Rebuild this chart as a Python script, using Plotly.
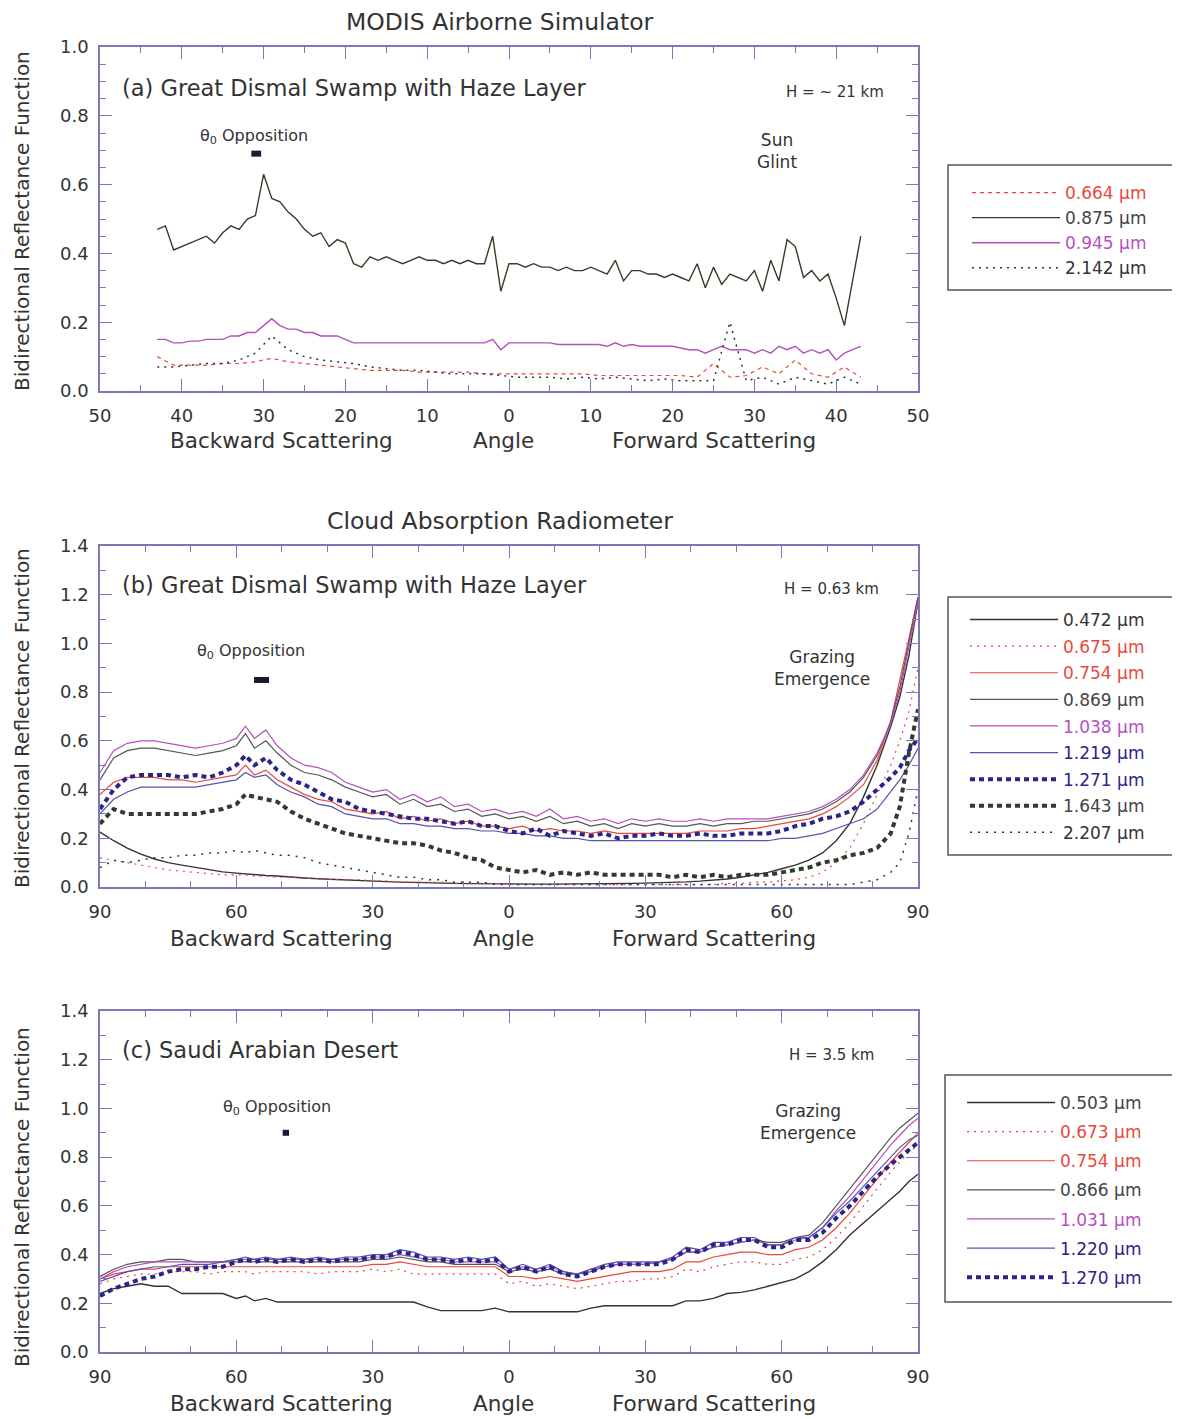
import plotly.graph_objects as go

W, H = 1180, 1419
OFF = 8  # page body margin of the html page


def px(x):
    return (x - OFF) / W


def py(y):
    return 1 - (y - OFF) / H


FONT = "DejaVu Sans"
AXC = "#7d79b8"
TXT = "#333333"

# ---------------- Panel (a) data : MODIS Airborne Simulator ----------------
A_ANG = [-43, -42, -41, -40, -39, -38, -37, -36, -35, -34, -33, -32, -31, -30, -29, -28, -27, -26, -25, -24,
         -23, -22, -21, -20, -19, -18, -17, -16, -15, -14, -13, -12, -11, -10, -9, -8, -7, -6, -5, -4, -3, -2,
         -1, 0, 1, 2, 3, 4, 5, 6, 7, 8, 9, 10, 11, 12, 13, 14, 15, 16, 17, 18, 19, 20, 21, 22, 23, 24, 25, 26,
         27, 28, 29, 30, 31, 32, 33, 34, 35, 36, 37, 38, 39, 40, 41, 42, 43]
A_875 = [0.47, 0.48, 0.41, 0.42, 0.43, 0.44, 0.45, 0.43, 0.46, 0.48, 0.47, 0.50, 0.51, 0.63, 0.56, 0.55, 0.52,
         0.50, 0.47, 0.45, 0.46, 0.42, 0.44, 0.43, 0.37, 0.36, 0.39, 0.38, 0.39, 0.38, 0.37, 0.38, 0.39, 0.38,
         0.38, 0.37, 0.38, 0.37, 0.38, 0.37, 0.37, 0.45, 0.29, 0.37, 0.37, 0.36, 0.37, 0.36, 0.36, 0.35, 0.36,
         0.35, 0.35, 0.36, 0.35, 0.34, 0.38, 0.32, 0.35, 0.35, 0.34, 0.34, 0.33, 0.34, 0.33, 0.32, 0.37, 0.30,
         0.36, 0.31, 0.34, 0.33, 0.32, 0.35, 0.29, 0.38, 0.32, 0.44, 0.42, 0.33, 0.35, 0.32, 0.34, 0.27, 0.19,
         0.32, 0.45]
A_945 = [0.15, 0.15, 0.14, 0.14, 0.145, 0.145, 0.15, 0.15, 0.15, 0.16, 0.16, 0.17, 0.17, 0.19, 0.21, 0.19,
         0.18, 0.18, 0.17, 0.17, 0.16, 0.16, 0.16, 0.15, 0.14, 0.14, 0.14, 0.14, 0.14, 0.14, 0.14, 0.14, 0.14,
         0.14, 0.14, 0.14, 0.14, 0.14, 0.14, 0.14, 0.14, 0.15, 0.12, 0.14, 0.14, 0.14, 0.14, 0.14, 0.14, 0.135,
         0.135, 0.135, 0.135, 0.135, 0.135, 0.13, 0.14, 0.13, 0.135, 0.13, 0.13, 0.13, 0.13, 0.13, 0.125, 0.12,
         0.12, 0.11, 0.12, 0.13, 0.12, 0.12, 0.12, 0.11, 0.12, 0.11, 0.13, 0.12, 0.13, 0.11, 0.12, 0.11, 0.12,
         0.09, 0.11, 0.12, 0.13]
A_ANG2 = [-43, -41, -39, -37, -35, -33, -31, -29, -27, -25, -23, -21, -19, -17, -15, -13, -11, -9, -7, -5,
          -3, -1, 1, 3, 5, 7, 9, 11, 13, 15, 17, 19, 21, 23, 25, 27, 29, 31, 33, 35, 37, 39, 41, 43]
A_664 = [0.10, 0.075, 0.075, 0.075, 0.08, 0.08, 0.085, 0.095, 0.085, 0.08, 0.075, 0.07, 0.065, 0.06, 0.06,
         0.06, 0.055, 0.055, 0.055, 0.055, 0.05, 0.05, 0.05, 0.05, 0.05, 0.05, 0.05, 0.045, 0.045, 0.045,
         0.045, 0.045, 0.045, 0.04, 0.08, 0.04, 0.045, 0.07, 0.05, 0.09, 0.05, 0.04, 0.07, 0.04]
A_2142 = [0.07, 0.07, 0.075, 0.08, 0.08, 0.09, 0.11, 0.16, 0.12, 0.10, 0.09, 0.085, 0.08, 0.07, 0.065, 0.06,
          0.06, 0.055, 0.05, 0.05, 0.05, 0.045, 0.04, 0.04, 0.04, 0.035, 0.04, 0.035, 0.04, 0.035, 0.03, 0.035,
          0.03, 0.03, 0.03, 0.20, 0.03, 0.04, 0.02, 0.04, 0.03, 0.02, 0.04, 0.02]
A_TICKVALS = [-50, -40, -30, -20, -10, 0, 10, 20, 30, 40, 50]
A_TICKTEXT = ["50", "40", "30", "20", "10", "0", "10", "20", "30", "40", "50"]
A_OPP_X = [-31.5, -30.3]
A_OPP_Y = [0.69, 0.69]

# ---------------- Panels (b) and (c) : Cloud Absorption Radiometer ----------------
BC_ANG = [-90, -87, -84, -81, -78, -75, -72, -69, -66, -63, -60, -58, -56, -53.5, -51, -48, -45, -42, -39,
          -36, -33, -30, -27, -24, -21, -18, -15, -12, -9, -6, -3, 0, 3, 6, 9, 12, 15, 18, 21, 24, 27, 30, 33,
          36, 39, 42, 45, 48, 51, 54, 57, 60, 63, 66, 69, 72, 75, 78, 81, 84, 86, 88, 90]

B_472 = [0.225, 0.19, 0.16, 0.135, 0.115, 0.10, 0.09, 0.08, 0.07, 0.062, 0.057, 0.053, 0.05, 0.047, 0.045,
         0.04, 0.037, 0.034, 0.031, 0.028, 0.026, 0.024, 0.022, 0.02, 0.018, 0.017, 0.016, 0.015, 0.014, 0.013,
         0.012, 0.012, 0.012, 0.012, 0.012, 0.012, 0.012, 0.013, 0.013, 0.014, 0.015, 0.016, 0.017, 0.019,
         0.021, 0.024, 0.028, 0.033, 0.04, 0.05, 0.06, 0.075, 0.09, 0.11, 0.14, 0.19, 0.26, 0.37, 0.50, 0.66,
         0.78, 0.95, 1.17]
B_675 = [0.12, 0.11, 0.10, 0.09, 0.08, 0.07, 0.065, 0.06, 0.055, 0.05, 0.05, 0.05, 0.045, 0.045, 0.04, 0.04,
         0.035, 0.035, 0.03, 0.03, 0.03, 0.025, 0.025, 0.02, 0.02, 0.02, 0.02, 0.015, 0.015, 0.015, 0.015,
         0.01, 0.01, 0.01, 0.01, 0.01, 0.01, 0.01, 0.01, 0.01, 0.01, 0.01, 0.01, 0.01, 0.01, 0.01, 0.01, 0.015,
         0.015, 0.02, 0.02, 0.025, 0.03, 0.04, 0.06, 0.10, 0.16, 0.26, 0.38, 0.50, 0.60, 0.72, 0.90]
B_754 = [0.38, 0.43, 0.45, 0.45, 0.45, 0.44, 0.44, 0.43, 0.44, 0.45, 0.46, 0.50, 0.46, 0.48, 0.44, 0.41, 0.38,
         0.36, 0.35, 0.32, 0.31, 0.30, 0.31, 0.28, 0.29, 0.27, 0.28, 0.26, 0.27, 0.25, 0.25, 0.24, 0.25, 0.23,
         0.24, 0.23, 0.23, 0.22, 0.23, 0.22, 0.22, 0.22, 0.22, 0.22, 0.22, 0.23, 0.23, 0.23, 0.24, 0.24, 0.25,
         0.26, 0.27, 0.28, 0.30, 0.33, 0.37, 0.42, 0.52, 0.68, 0.85, 1.02, 1.19]
B_869 = [0.44, 0.53, 0.56, 0.57, 0.57, 0.56, 0.55, 0.54, 0.55, 0.56, 0.58, 0.63, 0.57, 0.60, 0.55, 0.50, 0.47,
         0.46, 0.44, 0.41, 0.39, 0.37, 0.38, 0.34, 0.36, 0.33, 0.34, 0.31, 0.32, 0.29, 0.30, 0.28, 0.29, 0.27,
         0.29, 0.26, 0.27, 0.25, 0.26, 0.24, 0.26, 0.25, 0.26, 0.25, 0.25, 0.26, 0.25, 0.26, 0.26, 0.27, 0.27,
         0.28, 0.29, 0.30, 0.32, 0.35, 0.39, 0.45, 0.54, 0.68, 0.82, 1.00, 1.19]
B_1038 = [0.47, 0.56, 0.59, 0.60, 0.60, 0.59, 0.58, 0.57, 0.58, 0.59, 0.61, 0.66, 0.61, 0.645, 0.58, 0.53, 0.50,
          0.49, 0.47, 0.43, 0.41, 0.39, 0.40, 0.36, 0.38, 0.35, 0.37, 0.33, 0.34, 0.31, 0.32, 0.30, 0.31, 0.29,
          0.32, 0.28, 0.29, 0.27, 0.28, 0.26, 0.28, 0.27, 0.28, 0.27, 0.27, 0.28, 0.27, 0.28, 0.28, 0.28, 0.28,
          0.29, 0.30, 0.31, 0.33, 0.36, 0.40, 0.46, 0.55, 0.67, 0.80, 0.98, 1.17]
B_1219 = [0.30, 0.36, 0.39, 0.41, 0.41, 0.41, 0.41, 0.41, 0.42, 0.43, 0.44, 0.47, 0.45, 0.46, 0.42, 0.39, 0.37,
          0.34, 0.33, 0.30, 0.29, 0.28, 0.28, 0.26, 0.26, 0.25, 0.25, 0.24, 0.24, 0.23, 0.23, 0.22, 0.22, 0.21,
          0.21, 0.20, 0.20, 0.19, 0.19, 0.19, 0.19, 0.19, 0.19, 0.19, 0.19, 0.19, 0.19, 0.19, 0.19, 0.19, 0.19,
          0.20, 0.20, 0.21, 0.22, 0.24, 0.26, 0.28, 0.32, 0.39, 0.44, 0.50, 0.57]
B_1271 = [0.32, 0.40, 0.45, 0.46, 0.46, 0.46, 0.45, 0.46, 0.45, 0.47, 0.50, 0.54, 0.50, 0.53, 0.48, 0.44, 0.42,
          0.39, 0.36, 0.35, 0.32, 0.31, 0.30, 0.29, 0.28, 0.28, 0.27, 0.26, 0.27, 0.25, 0.25, 0.23, 0.22, 0.24,
          0.21, 0.23, 0.22, 0.21, 0.22, 0.20, 0.21, 0.21, 0.22, 0.21, 0.21, 0.22, 0.21, 0.21, 0.22, 0.22, 0.22,
          0.23, 0.25, 0.26, 0.28, 0.29, 0.31, 0.35, 0.40, 0.45, 0.49, 0.56, 0.61]
B_1643 = [0.26, 0.32, 0.30, 0.30, 0.30, 0.30, 0.30, 0.30, 0.31, 0.32, 0.34, 0.38, 0.37, 0.36, 0.35, 0.31, 0.28,
          0.26, 0.24, 0.22, 0.21, 0.20, 0.19, 0.18, 0.18, 0.17, 0.15, 0.14, 0.12, 0.11, 0.08, 0.07, 0.06, 0.07,
          0.05, 0.06, 0.05, 0.06, 0.05, 0.05, 0.05, 0.05, 0.05, 0.04, 0.05, 0.04, 0.05, 0.04, 0.05, 0.05, 0.05,
          0.06, 0.07, 0.08, 0.10, 0.11, 0.13, 0.14, 0.16, 0.22, 0.33, 0.55, 0.73]
B_2207 = [0.08, 0.11, 0.10, 0.11, 0.12, 0.12, 0.13, 0.13, 0.14, 0.14, 0.15, 0.14, 0.15, 0.14, 0.13, 0.13, 0.12,
          0.10, 0.09, 0.08, 0.07, 0.06, 0.05, 0.04, 0.04, 0.03, 0.03, 0.02, 0.02, 0.02, 0.01, 0.01, 0.01, 0.01,
          0.01, 0.01, 0.01, 0.01, 0.01, 0.01, 0.01, 0.01, 0.01, 0.01, 0.01, 0.01, 0.01, 0.01, 0.01, 0.01, 0.01,
          0.01, 0.01, 0.01, 0.01, 0.01, 0.01, 0.02, 0.03, 0.06, 0.10, 0.22, 0.40]
B_OPP_X = [-56.1, -52.8]
B_OPP_Y = [0.85, 0.85]

C_503 = [0.24, 0.26, 0.27, 0.28, 0.27, 0.27, 0.24, 0.24, 0.24, 0.24, 0.22, 0.23, 0.21, 0.22, 0.205, 0.205,
         0.205, 0.205, 0.205, 0.205, 0.205, 0.205, 0.205, 0.205, 0.205, 0.185, 0.17, 0.17, 0.17, 0.17, 0.18,
         0.165, 0.165, 0.165, 0.165, 0.165, 0.165, 0.18, 0.19, 0.19, 0.19, 0.19, 0.19, 0.19, 0.21, 0.21, 0.22,
         0.24, 0.245, 0.255, 0.27, 0.285, 0.30, 0.33, 0.37, 0.42, 0.48, 0.53, 0.58, 0.63, 0.66, 0.70, 0.73]
C_673 = [0.28, 0.30, 0.31, 0.32, 0.32, 0.33, 0.33, 0.33, 0.32, 0.33, 0.33, 0.33, 0.32, 0.33, 0.33, 0.33, 0.33,
         0.32, 0.33, 0.33, 0.33, 0.34, 0.33, 0.34, 0.32, 0.32, 0.32, 0.32, 0.32, 0.32, 0.32, 0.28, 0.29, 0.27,
         0.28, 0.27, 0.26, 0.27, 0.28, 0.29, 0.29, 0.30, 0.30, 0.31, 0.34, 0.33, 0.35, 0.36, 0.37, 0.37, 0.36,
         0.36, 0.38, 0.39, 0.42, 0.47, 0.53, 0.60, 0.67, 0.74, 0.78, 0.82, 0.85]
C_754 = [0.30, 0.32, 0.33, 0.34, 0.34, 0.35, 0.35, 0.35, 0.35, 0.35, 0.35, 0.35, 0.35, 0.35, 0.35, 0.35, 0.35,
         0.35, 0.35, 0.35, 0.35, 0.36, 0.36, 0.37, 0.36, 0.35, 0.35, 0.35, 0.35, 0.35, 0.35, 0.31, 0.31, 0.30,
         0.31, 0.30, 0.29, 0.30, 0.31, 0.32, 0.33, 0.33, 0.33, 0.34, 0.37, 0.37, 0.39, 0.40, 0.41, 0.41, 0.40,
         0.40, 0.42, 0.43, 0.46, 0.51, 0.57, 0.64, 0.71, 0.78, 0.82, 0.86, 0.90]
C_866 = [0.31, 0.34, 0.36, 0.37, 0.37, 0.38, 0.38, 0.37, 0.37, 0.37, 0.37, 0.37, 0.37, 0.37, 0.37, 0.37, 0.37,
         0.37, 0.37, 0.37, 0.37, 0.38, 0.38, 0.39, 0.38, 0.37, 0.37, 0.36, 0.36, 0.36, 0.36, 0.33, 0.34, 0.33,
         0.34, 0.32, 0.32, 0.33, 0.35, 0.36, 0.36, 0.36, 0.37, 0.38, 0.41, 0.41, 0.43, 0.44, 0.45, 0.46, 0.45,
         0.45, 0.47, 0.48, 0.53, 0.60, 0.67, 0.74, 0.81, 0.88, 0.92, 0.95, 0.98]
C_1031 = [0.30, 0.33, 0.35, 0.36, 0.37, 0.37, 0.37, 0.37, 0.37, 0.37, 0.38, 0.38, 0.38, 0.38, 0.38, 0.38, 0.38,
          0.38, 0.38, 0.38, 0.38, 0.39, 0.39, 0.40, 0.39, 0.38, 0.38, 0.37, 0.37, 0.37, 0.37, 0.34, 0.35, 0.34,
          0.35, 0.33, 0.32, 0.34, 0.35, 0.36, 0.36, 0.36, 0.37, 0.38, 0.41, 0.41, 0.43, 0.44, 0.45, 0.46, 0.44,
          0.44, 0.46, 0.47, 0.51, 0.58, 0.64, 0.71, 0.78, 0.85, 0.89, 0.93, 0.96]
C_1220 = [0.29, 0.31, 0.33, 0.34, 0.35, 0.35, 0.36, 0.36, 0.36, 0.37, 0.38, 0.39, 0.38, 0.39, 0.38, 0.39, 0.38,
          0.39, 0.38, 0.39, 0.39, 0.40, 0.40, 0.42, 0.41, 0.39, 0.39, 0.38, 0.39, 0.38, 0.39, 0.34, 0.36, 0.34,
          0.36, 0.33, 0.32, 0.34, 0.36, 0.37, 0.37, 0.37, 0.37, 0.39, 0.43, 0.42, 0.45, 0.45, 0.47, 0.47, 0.44,
          0.44, 0.47, 0.47, 0.51, 0.57, 0.62, 0.68, 0.74, 0.80, 0.84, 0.87, 0.89]
C_1270 = [0.23, 0.26, 0.28, 0.30, 0.31, 0.33, 0.34, 0.34, 0.35, 0.35, 0.37, 0.38, 0.37, 0.38, 0.37, 0.38, 0.37,
          0.38, 0.37, 0.38, 0.38, 0.39, 0.39, 0.41, 0.40, 0.38, 0.38, 0.37, 0.38, 0.37, 0.38, 0.33, 0.35, 0.33,
          0.35, 0.32, 0.31, 0.33, 0.35, 0.36, 0.36, 0.36, 0.36, 0.38, 0.42, 0.41, 0.44, 0.44, 0.46, 0.46, 0.43,
          0.43, 0.46, 0.46, 0.49, 0.55, 0.60, 0.66, 0.72, 0.77, 0.80, 0.83, 0.86]
C_OPP_X = [-49.8, -48.4]
C_OPP_Y = [0.90, 0.90]

BC_TICKVALS = [-90, -60, -30, 0, 30, 60, 90]
BC_TICKTEXT = ["90", "60", "30", "0", "30", "60", "90"]

# ---------------- colours ----------------
DARK = "#333333"
OLIVE = "#3a3a26"
GRAY = "#555555"
RED = "#e8493c"
MAG = "#b54fbf"
BLUE = "#5752b0"
NAVY = "#29268a"
GREEN = "#313c2b"

fig = go.Figure()


def add(x, y, name, color, width, dash, xa, ya, legend, textcolor=None):
    fig.add_trace(go.Scatter(
        x=x, y=y, mode="lines", xaxis=xa, yaxis=ya, legend=legend, legendgroup=legend + name,
        name=f'<span style="color:{textcolor or color}">{name}</span>',
        line=dict(color=color, width=width, dash=dash), hoverinfo="skip",
    ))


# panel a
add(A_ANG2, A_664, "0.664 µm", RED, 1.2, "4px,4px", "x", "y", "legend")
add(A_ANG, A_875, "0.875 µm", OLIVE, 1.4, "solid", "x", "y", "legend", "#444444")
add(A_ANG, A_945, "0.945 µm", MAG, 1.4, "solid", "x", "y", "legend")
add(A_ANG2, A_2142, "2.142 µm", DARK, 1.5, "2px,5px", "x", "y", "legend")

# panel b
add(BC_ANG, B_472, "0.472 µm", DARK, 1.4, "solid", "x2", "y2", "legend2")
add(BC_ANG, B_675, "0.675 µm", RED, 1.2, "2px,5px", "x2", "y2", "legend2")
add(BC_ANG, B_754, "0.754 µm", RED, 1.2, "solid", "x2", "y2", "legend2")
add(BC_ANG, B_869, "0.869 µm", GRAY, 1.2, "solid", "x2", "y2", "legend2", "#444444")
add(BC_ANG, B_1038, "1.038 µm", MAG, 1.2, "solid", "x2", "y2", "legend2")
add(BC_ANG, B_1219, "1.219 µm", BLUE, 1.2, "solid", "x2", "y2", "legend2", NAVY)
add(BC_ANG, B_1271, "1.271 µm", NAVY, 4, "5px,4px", "x2", "y2", "legend2")
add(BC_ANG, B_1643, "1.643 µm", GREEN, 4, "5px,4px", "x2", "y2", "legend2", "#444444")
add(BC_ANG, B_2207, "2.207 µm", DARK, 1.5, "2px,6px", "x2", "y2", "legend2")

# panel c
add(BC_ANG, C_503, "0.503 µm", DARK, 1.4, "solid", "x3", "y3", "legend3", "#444444")
add(BC_ANG, C_673, "0.673 µm", RED, 1.2, "2px,5px", "x3", "y3", "legend3")
add(BC_ANG, C_754, "0.754 µm", RED, 1.2, "solid", "x3", "y3", "legend3")
add(BC_ANG, C_866, "0.866 µm", GRAY, 1.2, "solid", "x3", "y3", "legend3", "#444444")
add(BC_ANG, C_1031, "1.031 µm", MAG, 1.2, "solid", "x3", "y3", "legend3")
add(BC_ANG, C_1220, "1.220 µm", BLUE, 1.2, "solid", "x3", "y3", "legend3", NAVY)
add(BC_ANG, C_1270, "1.270 µm", NAVY, 4, "5px,4px", "x3", "y3", "legend3")

# opposition markers
for ox, oy, xa, ya in [(A_OPP_X, A_OPP_Y, "x", "y"), (B_OPP_X, B_OPP_Y, "x2", "y2"), (C_OPP_X, C_OPP_Y, "x3", "y3")]:
    fig.add_trace(go.Scatter(x=ox, y=oy, mode="lines", xaxis=xa, yaxis=ya, showlegend=False,
                             line=dict(color="#231631", width=6), hoverinfo="skip"))


def xaxis(rng, tv, tt, minor_dtick, anchor):
    return dict(
        domain=[px(100), px(918)], anchor=anchor, range=rng, tickmode="array", tickvals=tv, ticktext=tt,
        ticks="inside", ticklen=12, tickwidth=1.3, tickcolor=AXC, showline=True, linecolor=AXC, linewidth=1.6,
        mirror="ticks", showgrid=False, zeroline=False, ticklabelstandoff=8, automargin=False,
        tickfont=dict(family=FONT, size=18, color=TXT),
        minor=dict(dtick=minor_dtick, tick0=0, ticks="inside", ticklen=6, tickwidth=1.2, tickcolor=AXC,
                   showgrid=False),
    )


def yaxis(top, bottom, rng, minor_dtick, anchor):
    return dict(
        domain=[py(bottom), py(top)], anchor=anchor, range=rng, dtick=0.2, tick0=0, tickformat=".1f",
        ticks="inside", ticklen=12, tickwidth=1.3, tickcolor=AXC, showline=True, linecolor=AXC, linewidth=1.6,
        mirror="ticks", showgrid=False, zeroline=False, ticklabelstandoff=6, automargin=False,
        tickfont=dict(family=FONT, size=18, color=TXT),
        minor=dict(dtick=minor_dtick, tick0=0, ticks="inside", ticklen=6, tickwidth=1.2, tickcolor=AXC,
                   showgrid=False),
    )


def legend(left, top, gap):
    return dict(x=px(left), y=py(top), xanchor="left", yanchor="top", bgcolor="rgba(0,0,0,0)",
                borderwidth=0, font=dict(family=FONT, size=17, color=TXT),
                itemwidth=88, traceorder="grouped", tracegroupgap=gap)


ann = []


def text(x, y, s, size, xanchor="center", angle=0):
    ann.append(dict(x=px(x), y=py(y), xref="paper", yref="paper", text=s, showarrow=False, xanchor=xanchor,
                    yanchor="middle", textangle=angle, font=dict(family=FONT, size=size, color=TXT)))


text(500, 22, "MODIS Airborne Simulator", 23.5)
text(500, 521, "Cloud Absorption Radiometer", 23.5)
text(120, 88, "(a) Great Dismal Swamp with Haze Layer", 22.5, "left")
text(120, 585, "(b) Great Dismal Swamp with Haze Layer", 22.5, "left")
text(120, 1050, "(c) Saudi Arabian Desert", 22.5, "left")
text(886, 92, "H = ~ 21 km", 15, "right")
text(881, 589, "H = 0.63 km", 15, "right")
text(876, 1055, "H = 3.5 km", 15, "right")
text(254, 136, "θ<sub>0</sub> Opposition", 16)
text(251, 652, "θ<sub>0</sub> Opposition", 16)
text(277, 1107, "θ<sub>0</sub> Opposition", 16)
text(777, 151, "Sun<br>Glint", 17)
text(822, 668, "Grazing<br>Emergence", 17)
text(808, 1122, "Grazing<br>Emergence", 17)
for yy in (440, 938, 1403):
    text(281, yy, "Backward Scattering", 21.5)
    text(503, yy, "Angle", 21.5)
    text(714, yy, "Forward Scattering", 21.5)
for yy in (221, 718, 1197):
    text(22, yy, "Bidirectional Reflectance Function", 20, angle=-90)

shapes = []
for (x0, y0, x1, y1) in [(948, 165, 1178, 290), (948, 597, 1178, 855), (945, 1075, 1178, 1302)]:
    shapes.append(dict(type="rect", xref="paper", yref="paper", x0=px(x0), x1=px(x1), y0=py(y1), y1=py(y0),
                       line=dict(color="#555555", width=1.5), fillcolor="rgba(0,0,0,0)", layer="above"))

fig.update_layout(
    width=W, height=H, autosize=False, margin=dict(l=0, r=0, t=0, b=0, autoexpand=False),
    paper_bgcolor="white", plot_bgcolor="white",
    font=dict(family=FONT, color=TXT),
    xaxis=xaxis([-50, 50], A_TICKVALS, A_TICKTEXT, 5, "y"),
    xaxis2=xaxis([-90, 90], BC_TICKVALS, BC_TICKTEXT, 10, "y2"),
    xaxis3=xaxis([-90, 90], BC_TICKVALS, BC_TICKTEXT, 10, "y3"),
    yaxis=yaxis(47, 391, [0, 1.0], 0.05, "x"),
    yaxis2=yaxis(546, 887, [0, 1.4], 0.1, "x2"),
    yaxis3=yaxis(1011, 1352, [0, 1.4], 0.1, "x3"),
    legend=legend(967, 175, 0), legend2=legend(965, 602, 1.5), legend3=legend(962, 1085, 4),
    annotations=ann, shapes=shapes, showlegend=True,
)

fig.write_html("out.html")
